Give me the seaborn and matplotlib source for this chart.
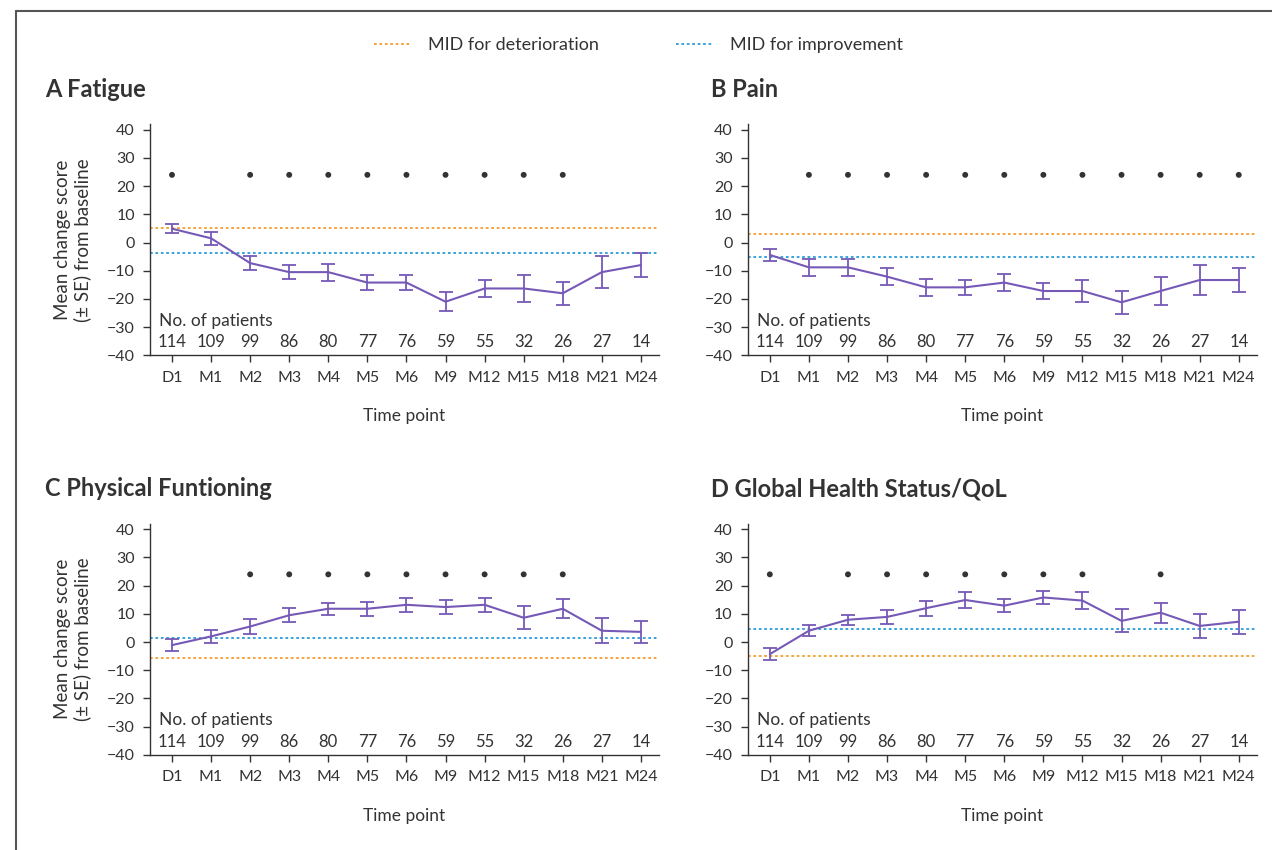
import numpy as np
import matplotlib
matplotlib.use("Agg")
import matplotlib.pyplot as plt
import seaborn as sns
from matplotlib.lines import Line2D

timepoints = ["D1", "M1", "M2", "M3", "M4", "M5", "M6", "M9", "M12", "M15", "M18", "M21", "M24"]
n_patients = [114, 109, 99, 86, 80, 77, 76, 59, 55, 32, 26, 27, 14]

fatigue_mean = [4.9, 1.5, -7.3, -10.5, -10.5, -14.2, -14.2, -21.0, -16.3, -16.3, -18.0, -10.5, -8.0]
fatigue_se = [1.6, 2.4, 2.6, 2.6, 3.0, 2.8, 2.8, 3.3, 3.0, 4.9, 4.1, 5.7, 4.3]
fatigue_mid = (5.3, -3.8)  # deterioration, improvement
fatigue_sig = ["D1", "M2", "M3", "M4", "M5", "M6", "M9", "M12", "M15", "M18"]

pain_mean = [-4.4, -8.8, -8.8, -12.1, -15.9, -15.9, -14.2, -17.2, -17.2, -21.2, -17.2, -13.3, -13.3]
pain_se = [2.1, 2.9, 3.0, 2.9, 3.0, 2.6, 3.0, 2.9, 3.9, 4.1, 4.9, 5.3, 4.1]
pain_mid = (3.0, -5.1)
pain_sig = ["M1", "M2", "M3", "M4", "M5", "M6", "M9", "M12", "M15", "M18", "M21", "M24"]

phys_mean = [-1.1, 2.0, 5.5, 9.5, 11.8, 11.8, 13.2, 12.4, 13.2, 8.6, 11.8, 4.0, 3.6]
phys_se = [2.1, 2.4, 2.5, 2.4, 2.1, 2.4, 2.4, 2.5, 2.5, 4.1, 3.4, 4.4, 3.8]
phys_mid = (-5.5, 1.5)
phys_sig = ["M2", "M3", "M4", "M5", "M6", "M9", "M12", "M15", "M18"]

ghs_mean = [-4.3, 4.0, 7.9, 8.9, 12.0, 14.9, 12.9, 15.8, 14.7, 7.5, 10.4, 5.7, 7.2]
ghs_se = [2.2, 2.0, 1.8, 2.4, 2.6, 2.7, 2.3, 2.3, 2.9, 4.1, 3.5, 4.4, 4.2]
ghs_mid = (-4.9, 4.7)
ghs_sig = ["D1", "M2", "M3", "M4", "M5", "M6", "M9", "M12", "M18"]

SIG_Y = 24
ORANGE = "#f59d2f"
BLUE = "#2b9bd8"
PURPLE = "#7659b6"
DARK = "#333333"

sns.set_style("ticks")
plt.rcParams["font.family"] = ["Lato", "DejaVu Sans"]
plt.rcParams["text.color"] = DARK
plt.rcParams["axes.labelcolor"] = DARK
plt.rcParams["xtick.color"] = DARK
plt.rcParams["ytick.color"] = DARK

fig = plt.figure(figsize=(12.72, 8.5), dpi=100)

panels = [
    ("A Fatigue", fatigue_mean, fatigue_se, fatigue_mid, fatigue_sig),
    ("B Pain", pain_mean, pain_se, pain_mid, pain_sig),
    ("C Physical Funtioning", phys_mean, phys_se, phys_mid, phys_sig),
    ("D Global Health Status/QoL", ghs_mean, ghs_se, ghs_mid, ghs_sig),
]
lefts = [0.118, 0.588]
title_x = [45 / 1272, 711 / 1272]
bottoms = [0.582, 0.112]
w, h = 0.400, 0.272

x = np.arange(len(timepoints))
for i, (title, mean, se, mid, sig) in enumerate(panels):
    col, row = i % 2, i // 2
    ax = fig.add_axes([lefts[col], bottoms[row], w, h])

    ax.axhline(mid[0], color=ORANGE, ls=(0, (1.5, 1.5)), lw=1.3)
    ax.axhline(mid[1], color=BLUE, ls=(0, (1.5, 1.5)), lw=1.3)

    sns.lineplot(x=x, y=mean, ax=ax, color=PURPLE, lw=1.5)
    ax.errorbar(x, mean, yerr=se, fmt="none", ecolor=PURPLE, elinewidth=1.3,
                capsize=5, capthick=1.3)

    sig_x = [timepoints.index(t) for t in sig]
    sns.scatterplot(x=sig_x, y=[SIG_Y] * len(sig_x), ax=ax, color=DARK,
                    s=18, edgecolor="none")

    ax.text(-0.33, -27.7, "No. of patients", fontsize=12.5, va="center", ha="left")
    for xi, n in zip(x, n_patients):
        ax.text(xi, -35.4, str(n), fontsize=12, ha="center", va="center")

    ax.set_xlim(-0.56, 12.46)
    ax.set_ylim(-40, 42)
    ax.set_yticks(range(-40, 41, 10))
    ax.set_xticks(x)
    ax.set_xticklabels(timepoints)
    ax.tick_params(labelsize=11.5, length=5, width=1, pad=6)
    ax.set_xlabel("Time point", fontsize=12.5, labelpad=17)
    if col == 0:
        ax.set_ylabel("Mean change score\n(± SE) from baseline", fontsize=13.5,
                      labelpad=11)
    else:
        ax.set_ylabel("")
    sns.despine(ax=ax)
    for s in ["left", "bottom"]:
        ax.spines[s].set_color(DARK)
        ax.spines[s].set_linewidth(1)

    fig.text(title_x[col], bottoms[row] + h + 0.041, title,
             fontsize=17, fontweight="bold", va="center", ha="left")

handles = [
    Line2D([], [], color=ORANGE, ls=(0, (1.5, 1.5)), lw=1.3),
    Line2D([], [], color=BLUE, ls=(0, (1.5, 1.5)), lw=1.3),
]
fig.legend(handles, ["MID for deterioration", "MID for improvement"],
           loc="center", bbox_to_anchor=(0.502, 0.947), ncol=2, frameon=False,
           fontsize=13, handlelength=2.0, handletextpad=1.0, columnspacing=4.3)

# border frame (top and left)
bx, by = 16 / 1272, 1 - 11 / 850
fig.add_artist(Line2D([bx, 1], [by, by], color="#555555", lw=1.5))
fig.add_artist(Line2D([bx, bx], [0, by], color="#555555", lw=1.5))

fig.savefig("out.png", dpi=100)
